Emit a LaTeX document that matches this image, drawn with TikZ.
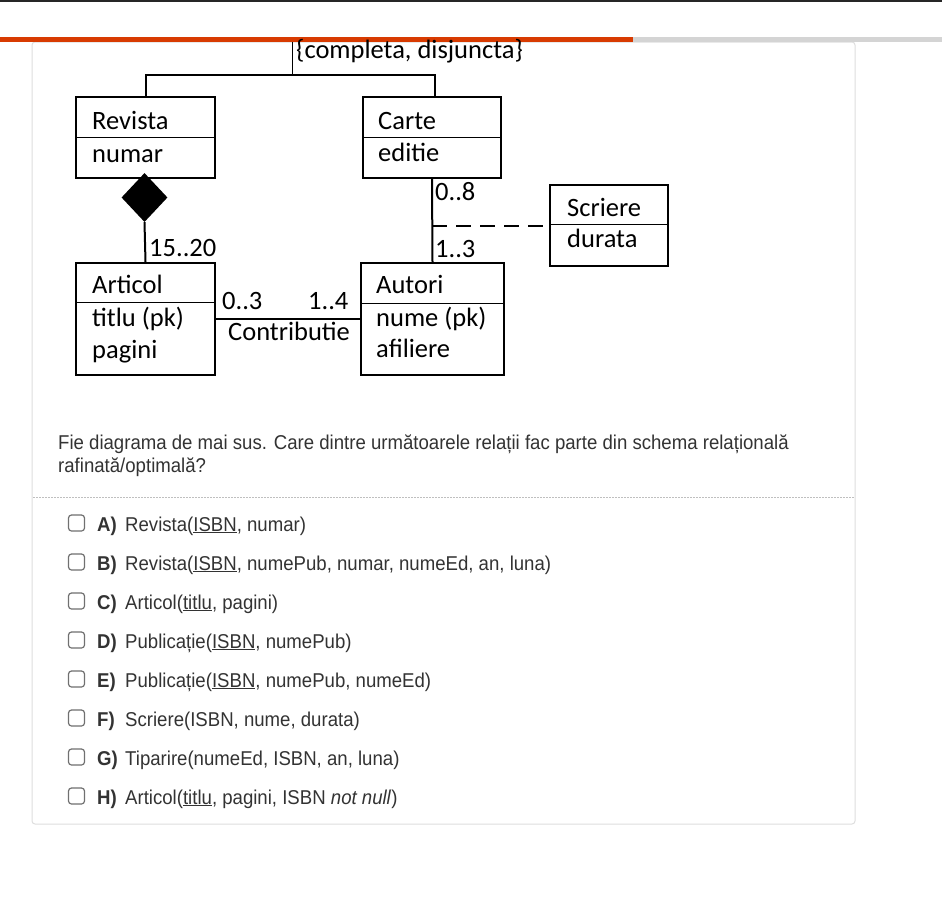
\documentclass[tikz,border=0pt]{standalone}
\usepackage{fontspec}
\usepackage{xcolor}
\usetikzlibrary{positioning,shapes.geometric}

\newfontfamily\umlfont{Carlito}
\newfontfamily\webfont[FakeStretch=0.93]{Liberation Sans}

\definecolor{barorange}{HTML}{D83B01}
\definecolor{bargray}{HTML}{D4D4D4}
\definecolor{cardline}{HTML}{DEDEDE}
\definecolor{webtext}{HTML}{333333}
\definecolor{boxgray}{HTML}{707070}

\begin{document}
\begin{tikzpicture}[x=1pt, y=-1pt,
  umlbox/.style={draw, line width=2pt, inner sep=0pt, anchor=north west},
  umltext/.style={font=\umlfont\fontsize{26.5}{30}\selectfont, anchor=base west, inner sep=0pt},
  umlline/.style={line width=2pt},
  divider/.style={line width=1pt},
  qtext/.style={font=\webfont\fontsize{20}{24}\selectfont, text=webtext, anchor=base west, inner sep=0pt},
  optlabel/.style={qtext, font=\webfont\bfseries\fontsize{20}{24}\selectfont},
  chkbox/.style={draw=boxgray, line width=1.2pt, rounded corners=3pt, minimum size=16pt, inner sep=0pt}
]
  \useasboundingbox (0,0) rectangle (942,897);
  \fill[white] (0,0) rectangle (942,897);

  % page frame
  \fill[black!85] (0,0) rectangle (942,1.5);
  \draw[cardline, line width=1pt, rounded corners=3pt] (32,42) rectangle (855,824);
  \fill[barorange] (0,37) rectangle (633,42);
  \fill[bargray] (633,37) rectangle (942,42);
  \draw[black!25, line width=1pt, dash pattern=on 1.5pt off 1.5pt] (33,497.5) -- (854,497.5);

  % classes
  \node[umlbox, minimum width=139pt, minimum height=81pt] (revista) at (75,96) {};
  \node[umlbox, minimum width=139pt, minimum height=112pt] (articol) at (75,262) {};
  \node[umlbox, minimum width=138pt, minimum height=81pt] (carte) at (362,96) {};
  \node[umlbox, minimum width=143pt, minimum height=112pt] (autori) at (360,262) {};
  \node[umlbox, minimum width=118pt, minimum height=81pt] (scriere) at (549,184) {};

  \draw[divider] (revista.west |- 0,137) -- (revista.east |- 0,137);
  \draw[divider] (articol.west |- 0,302) -- (articol.east |- 0,302);
  \draw[divider] (carte.west |- 0,137) -- (carte.east |- 0,137);
  \draw[divider] (autori.west |- 0,303) -- (autori.east |- 0,303);
  \draw[divider] (scriere.west |- 0,224) -- (scriere.east |- 0,224);

  \node[umltext] (revistaName) at (92,129) {Revista};
  \node[umltext] (revistaAttr) at (92,162) {numar};
  \node[umltext] (articolName) at (92,293) {Articol};
  \node[umltext] (articolKey) at (92,326) {titlu (pk)};
  \node[umltext] (articolAttr) at (92,358) {pagini};
  \node[umltext] (carteName) at (378,129) {Carte};
  \node[umltext] (carteAttr) at (378,161) {editie};
  \node[umltext] (autoriName) at (376,293) {Autori};
  \node[umltext] (autoriKey) at (376,326) {nume (pk)};
  \node[umltext] (autoriAttr) at (376,357) {afiliere};
  \node[umltext] (scriereName) at (567,216) {Scriere};
  \node[umltext] (scriereAttr) at (567,247) {durata};

  % generalization
  \coordinate (gentop) at (292.5,42);
  \coordinate (genmid) at (292.5,75);
  \coordinate (cartetop) at (435,96);
  \node[umltext] (constraint) at (296,58) {\{completa, disjuncta\}};
  \draw[line width=1pt] (gentop) -- (genmid);
  \draw[umlline] (revista.north) |- (genmid) -| (cartetop);

  % composition
  \node[diamond, fill=black, minimum width=46pt, minimum height=49pt, inner sep=0pt] (comp) at (144.5,197.5) {};
  \draw[umlline] (comp.south) -- (articol.north);
  \node[umltext] (multArticol) at (149,256) {15..20};

  % associations
  \draw[umlline] (carte.south) -- (autori.north);
  \coordinate (assoc) at (carte.south |- scriere.west);
  \draw[umlline, dash pattern=on 15pt off 9pt] (assoc) -- (scriere.west);
  \node[umltext] (multCarte) at (435,200) {0..8};
  \node[umltext] (multAutori) at (435,257) {1..3};

  \draw[umlline] (articol.east) -- (autori.west);
  \node[umltext] (multArt) at (222,309) {0..3};
  \node[umltext] (multAut) at (308,309) {1..4};
  \node[umltext] (contrib) at (228,340) {Contributie};

  % question
  \node[qtext] (question) at (58,449) {Fie diagrama de mai sus. Care dintre următoarele relații fac parte din schema relațională};
  \node[qtext] (question2) at (58,472) {rafinată/optimală?};

  % options
  \node[chkbox] (boxA) at (76.5,523) {};
  \node[optlabel] (letA) at (97,531) {A)};
  \node[qtext] (optA) at (125,531) {Revista(\underline{ISBN}, numar)};

  \node[chkbox] (boxB) at (76.5,562) {};
  \node[optlabel] (letB) at (97,570) {B)};
  \node[qtext] (optB) at (125,570) {Revista(\underline{ISBN}, numePub, numar, numeEd, an, luna)};

  \node[chkbox] (boxC) at (76.5,601) {};
  \node[optlabel] (letC) at (97,609) {C)};
  \node[qtext] (optC) at (125,609) {Articol(\underline{titlu}, pagini)};

  \node[chkbox] (boxD) at (76.5,640) {};
  \node[optlabel] (letD) at (97,648) {D)};
  \node[qtext] (optD) at (125,648) {Publicație(\underline{ISBN}, numePub)};

  \node[chkbox] (boxE) at (76.5,679) {};
  \node[optlabel] (letE) at (97,687) {E)};
  \node[qtext] (optE) at (125,687) {Publicație(\underline{ISBN}, numePub, numeEd)};

  \node[chkbox] (boxF) at (76.5,718) {};
  \node[optlabel] (letF) at (97,726) {F)};
  \node[qtext] (optF) at (125,726) {Scriere(ISBN, nume, durata)};

  \node[chkbox] (boxG) at (76.5,757) {};
  \node[optlabel] (letG) at (97,765) {G)};
  \node[qtext] (optG) at (125,765) {Tiparire(numeEd, ISBN, an, luna)};

  \node[chkbox] (boxH) at (76.5,796) {};
  \node[optlabel] (letH) at (97,804) {H)};
  \node[qtext] (optH) at (125,804) {Articol(\underline{titlu}, pagini, ISBN \textit{not null})};
\end{tikzpicture}
\end{document}
